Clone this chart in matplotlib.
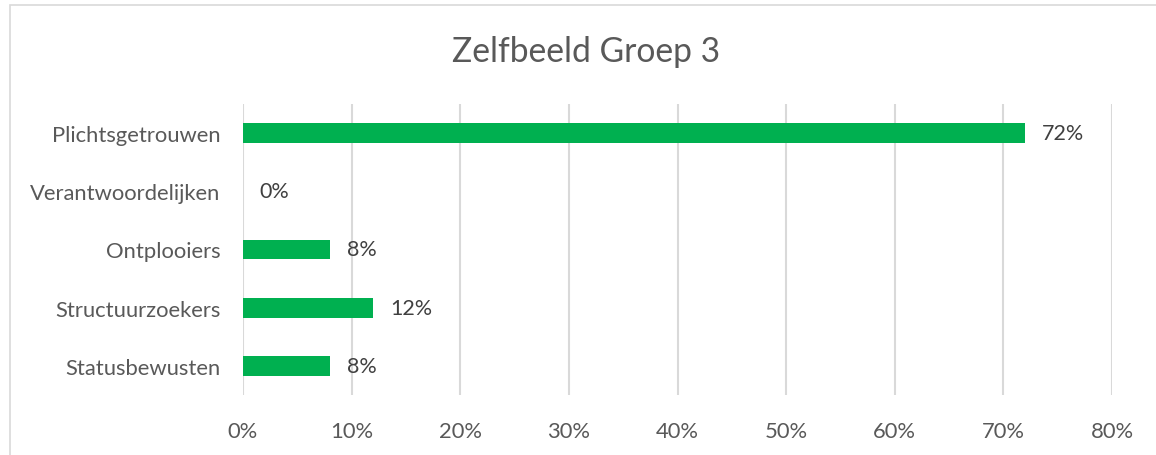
import matplotlib.pyplot as plt
from matplotlib.patches import Rectangle

categories = ['Plichtsgetrouwen', 'Verantwoordelijken', 'Ontplooiers',
              'Structuurzoekers', 'Statusbewusten']
values = [72, 0, 8, 12, 8]
x_ticks = [0, 10, 20, 30, 40, 50, 60, 70, 80]

plt.rcParams['font.family'] = ['Lato', 'DejaVu Sans']

fig = plt.figure(figsize=(11.56, 4.56), dpi=100)
ax = fig.add_axes([243 / 1156, 1 - 396 / 456, (1112 - 243) / 1156, 291 / 456])

# light border round the chart area (only left/top visible in the crop)
fig.patches.append(Rectangle((10 / 1156, -0.1), 1.2, 1 - 6 / 456 + 0.1,
                             transform=fig.transFigure, fill=False,
                             edgecolor='#d9d9d9', linewidth=1.2))

y = list(range(len(categories)))[::-1]
ax.barh(y, values, height=0.34, color='#00b050', zorder=3)

for yi, v in zip(y, values):
    ax.annotate(f'{v}%', (v, yi), xytext=(12, 0), textcoords='offset points',
                ha='left', va='center', fontsize=15.5, color='#404040')

ax.set_xlim(0, 80)
ax.set_ylim(-0.5, 4.5)
ax.set_xticks(x_ticks)
ax.set_xticklabels([f'{t}%' for t in x_ticks])
ax.set_yticks(y)
ax.set_yticklabels(categories)
ax.tick_params(axis='both', length=0, labelsize=15.8, labelcolor='#595959')
ax.tick_params(axis='x', pad=19)
ax.tick_params(axis='y', pad=16)
ax.grid(axis='x', color='#d9d9d9', linewidth=1.5, zorder=0)
for s in ax.spines.values():
    s.set_visible(False)

fig.text(586 / 1156, 1 - 52 / 456, 'Zelfbeeld Groep 3', ha='center', va='center',
         fontsize=24.2, color='#595959')

fig.savefig('out.png', dpi=100)
